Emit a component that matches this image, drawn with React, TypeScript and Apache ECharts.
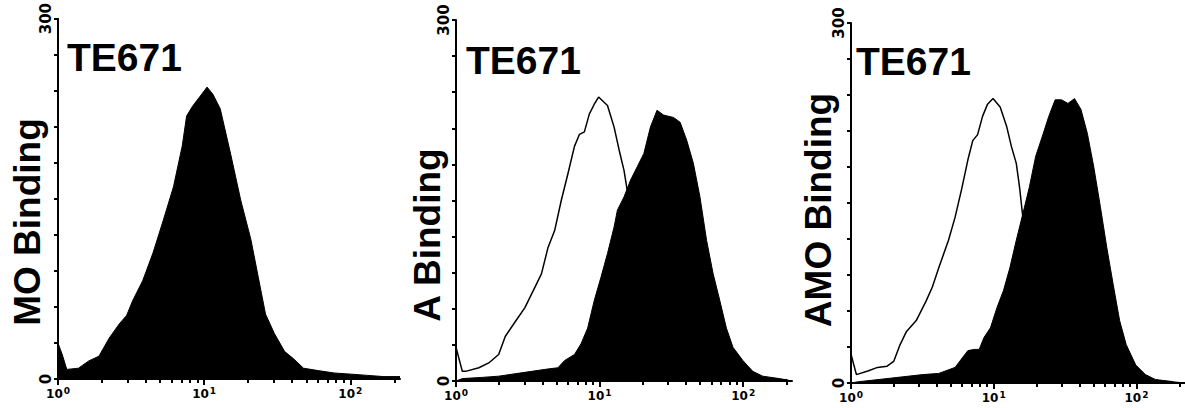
import React, { useEffect, useRef } from "react";
import * as echarts from "echarts";

// ---- axis ticks / labels (x in decades of fluorescence, 10^0 .. ~10^2.34) ----
const X_MAX = 2.34;
const xMajorTicks = [0, 1, 2];
const xLabelBase = ["10", "10", "10"];
const xLabelExp = ["0", "1", "2"];
const xMinorTicks = [
  0.301, 0.477, 0.602, 0.699, 0.778, 0.845, 0.903, 0.954,
  1.301, 1.477, 1.602, 1.699, 1.778, 1.845, 1.903, 1.954,
  2.301,
];
const yLabelValues = [0, 300];

// ---- panel titles ----
const panelTitles = ["TE671", "TE671", "TE671"];
const yNames = ["MO Binding", "A Binding", "AMO Binding"];

// ---- histogram data: [decade, cell count] ----
const moFilled = [
  [0, 30], [0.03, 20], [0.06, 8], [0.14, 9], [0.21, 15], [0.28, 19], [0.35, 34],
  [0.42, 46], [0.47, 53], [0.51, 65], [0.58, 82], [0.65, 105], [0.72, 132],
  [0.79, 160], [0.85, 194], [0.88, 219], [0.92, 227], [0.97, 235], [1.02, 243],
  [1.06, 237], [1.11, 225], [1.18, 188], [1.25, 149], [1.32, 116], [1.37, 85],
  [1.42, 54], [1.48, 38], [1.55, 23], [1.61, 17], [1.68, 9], [1.78, 7], [1.89, 5],
  [2.01, 4], [2.12, 3], [2.23, 2], [2.34, 2],
];

const aControl = [
  [0, 28], [0.044, 8], [0.067, 8], [0.159, 11], [0.228, 15], [0.297, 22],
  [0.343, 37], [0.411, 49], [0.48, 61], [0.55, 78], [0.595, 89], [0.641, 111],
  [0.687, 125], [0.733, 150], [0.779, 172], [0.825, 195], [0.86, 205],
  [0.894, 207], [0.929, 222], [0.963, 230], [0.993, 236], [1.055, 229],
  [1.101, 211], [1.136, 192], [1.17, 175], [1.193, 158], [1.239, 128],
  [1.285, 95], [1.354, 61], [1.446, 33], [1.561, 14], [1.676, 6], [1.906, 2],
  [2.308, 1],
];
const aFilled = [
  [0, 0], [0.044, 2], [0.182, 3], [0.297, 4], [0.411, 6], [0.526, 8],
  [0.641, 10], [0.71, 11], [0.756, 17], [0.825, 22], [0.871, 31], [0.917, 44],
  [0.963, 67], [1.009, 86], [1.055, 106], [1.101, 128], [1.124, 142],
  [1.17, 153], [1.216, 167], [1.262, 178], [1.308, 189], [1.354, 211],
  [1.4, 225], [1.446, 221], [1.515, 219], [1.561, 215], [1.607, 200],
  [1.653, 181], [1.699, 153], [1.745, 117], [1.791, 89], [1.837, 67],
  [1.883, 44], [1.929, 28], [1.998, 17], [2.067, 8], [2.136, 4], [2.251, 2],
  [2.34, 0],
];

const amoControl = [
  [0, 24], [0.038, 7], [0.118, 10], [0.186, 13], [0.253, 14], [0.299, 18],
  [0.344, 32], [0.389, 43], [0.457, 52], [0.525, 68], [0.57, 80], [0.615, 96],
  [0.683, 119], [0.729, 138], [0.774, 161], [0.819, 186], [0.853, 202],
  [0.887, 207], [0.921, 222], [0.955, 232], [0.995, 237], [1.045, 230],
  [1.09, 214], [1.124, 197], [1.158, 183], [1.181, 163], [1.204, 138],
  [1.249, 102], [1.317, 68], [1.407, 35], [1.52, 15], [1.633, 7], [1.86, 3],
  [2.256, 1],
];
const amoFilled = [
  [0, 0], [0.05, 1], [0.276, 4], [0.502, 7], [0.615, 8], [0.729, 13],
  [0.774, 20], [0.819, 27], [0.864, 28], [0.898, 28], [0.932, 38], [0.977, 46],
  [1.023, 63], [1.068, 77], [1.113, 96], [1.158, 119], [1.204, 141],
  [1.249, 163], [1.294, 189], [1.339, 205], [1.385, 222], [1.43, 236],
  [1.475, 236], [1.52, 233], [1.566, 237], [1.611, 228], [1.656, 208],
  [1.701, 180], [1.747, 147], [1.792, 113], [1.837, 82], [1.882, 52],
  [1.928, 32], [1.995, 15], [2.063, 7], [2.131, 3], [2.256, 1], [2.34, 0],
];

const panels = [
  { filled: moFilled, control: null as number[][] | null },
  { filled: aFilled, control: aControl },
  { filled: amoFilled, control: amoControl },
];

const grids = [
  { left: 58, top: 18, width: 342, height: 361 },
  { left: 456, top: 20, width: 336, height: 361 },
  { left: 851, top: 23, width: 339, height: 360 },
];

const titlePos = [
  { x: 67, y: 57 },
  { x: 466, y: 60 },
  { x: 856, y: 61 },
];
const yNamePos = [
  { x: 27, y: 222 },
  { x: 427, y: 235 },
  { x: 818, y: 210 },
];

export default function App() {
  const ref = useRef<HTMLDivElement>(null);
  useEffect(() => {
    if (!ref.current) return;
    const chart = echarts.init(ref.current, null, { renderer: "svg" });

    const xAxis: any[] = [];
    const yAxis: any[] = [];
    const series: any[] = [];

    grids.forEach((g, gi) => {
      // minor ticks + labels + axis line
      xAxis.push({
        type: "value",
        gridIndex: gi,
        min: 0,
        max: X_MAX,
        position: "bottom",
        axisLine: { show: true, onZero: false, lineStyle: { color: "#000", width: 2 } },
        splitLine: { show: false },
        axisTick: {
          show: true,
          inside: false,
          length: 4,
          customValues: xMinorTicks,
          lineStyle: { color: "#000", width: 2 },
        },
        axisLabel: {
          show: true,
          customValues: xMajorTicks,
          formatter: (v: number) => {
            const i = Math.round(v);
            return `{b|${xLabelBase[i]}}{s|${xLabelExp[i]}}`;
          },
          margin: 7,
          color: "#000",
          rich: {
            b: {
              fontSize: 12,
              fontWeight: "bold",
              fontFamily: "DejaVu Sans",
              color: "#000",
              lineHeight: 14,
              verticalAlign: "bottom",
            },
            s: {
              fontSize: 9,
              fontWeight: "bold",
              fontFamily: "DejaVu Sans",
              color: "#000",
              verticalAlign: "top",
              padding: [0, 0, 0, 1],
            },
          },
        },
      });
      // major ticks
      xAxis.push({
        type: "value",
        gridIndex: gi,
        min: 0,
        max: X_MAX,
        position: "bottom",
        axisLine: { show: false, onZero: false },
        splitLine: { show: false },
        axisTick: {
          show: true,
          inside: false,
          length: 6,
          customValues: xMajorTicks,
          lineStyle: { color: "#000", width: 2 },
        },
        axisLabel: { show: false },
      });
      yAxis.push({
        type: "value",
        gridIndex: gi,
        min: 0,
        max: 300,
        interval: 30,
        axisLine: { show: true, lineStyle: { color: "#000", width: 2 } },
        splitLine: { show: false },
        axisTick: { show: true, inside: false, length: 4, lineStyle: { color: "#000", width: 2 } },
        axisLabel: {
          show: true,
          customValues: yLabelValues,
          rotate: 90,
          margin: 5,
          color: "#000",
          fontSize: 15,
          fontWeight: "bold",
          fontFamily: "DejaVu Sans",
        },
      });

      const p = panels[gi];
      series.push({
        type: "line",
        xAxisIndex: gi * 2,
        yAxisIndex: gi,
        data: p.filled,
        symbol: "none",
        showSymbol: false,
        lineStyle: { color: "#000", width: 1 },
        itemStyle: { color: "#000" },
        areaStyle: { color: "#000", opacity: 1 },
        z: 2,
      });
      if (p.control) {
        series.push({
          type: "line",
          xAxisIndex: gi * 2,
          yAxisIndex: gi,
          data: p.control,
          symbol: "none",
          showSymbol: false,
          lineStyle: { color: "#000", width: 1.5 },
          itemStyle: { color: "#000" },
          z: 3,
        });
      }
    });

    const graphic: any[] = [];
    titlePos.forEach((t, i) => {
      graphic.push({
        type: "text",
        x: t.x,
        y: t.y,
        style: {
          text: panelTitles[i],
          fill: "#000",
          font: "bold 39px 'Liberation Sans', Arial, sans-serif",
          textAlign: "left",
          textVerticalAlign: "middle",
        },
      });
    });
    yNamePos.forEach((t, i) => {
      graphic.push({
        type: "text",
        x: t.x,
        y: t.y,
        rotation: Math.PI / 2,
        style: {
          text: yNames[i],
          fill: "#000",
          font: "bold 37px 'Liberation Sans', Arial, sans-serif",
          textAlign: "center",
          textVerticalAlign: "middle",
        },
      });
    });

    chart.setOption({
      animation: false,
      backgroundColor: "#fff",
      grid: grids.map((g) => ({ ...g, containLabel: false })),
      xAxis,
      yAxis,
      series,
      graphic,
    });
    return () => chart.dispose();
  }, []);

  return (
    <div
      ref={ref}
      style={{ position: "fixed", left: 0, top: 0, width: 1185, height: 408, background: "#fff" }}
    />
  );
}
